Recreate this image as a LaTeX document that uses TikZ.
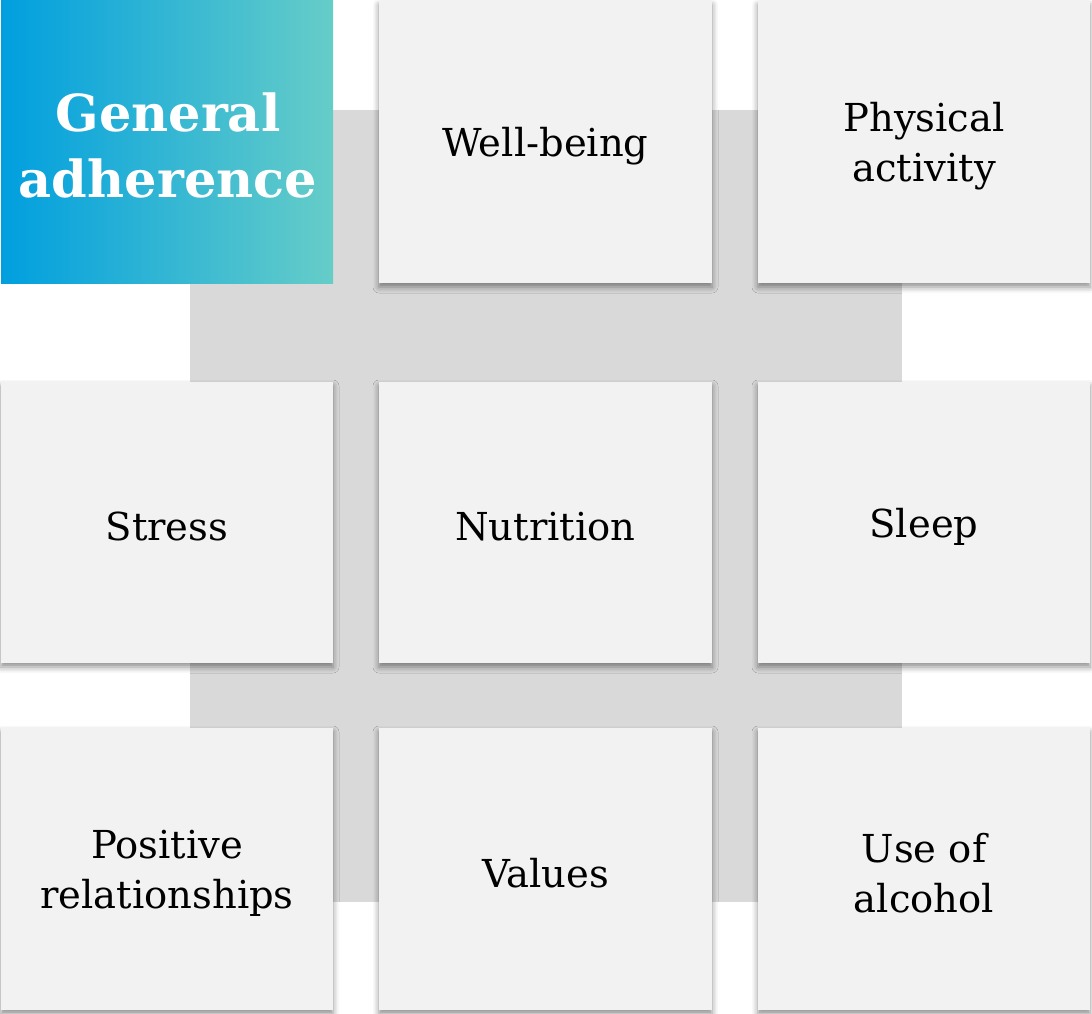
\documentclass[tikz,border=0pt]{standalone}
\usepackage{fontspec}
\setmainfont{DejaVu Serif}
\usetikzlibrary{shadows.blur}
\definecolor{tilefill}{HTML}{F2F2F2}
\definecolor{backfill}{HTML}{D9D9D9}
\definecolor{headleft}{HTML}{009FDF}
\definecolor{headright}{HTML}{66CDC8}
\begin{document}
\begin{tikzpicture}[x=1pt,y=-1pt,
  tile/.style={fill=tilefill, draw=none,
    blur shadow={shadow xshift=0pt, shadow yshift=-4pt, shadow blur radius=6pt, shadow opacity=45}},
  tiletext/.style={align=center, font=\fontsize{38.5}{50}\selectfont, text=black, yshift=-4pt},
  headtext/.style={align=center, font=\fontsize{51}{66}\selectfont\bfseries, text=white}]
  \useasboundingbox (0,0) rectangle (1092,1014);
  % backdrop
  \fill[backfill] (190,110) rectangle (902,902);
  % header tile
  \shade[left color=headleft, right color=headright] (1,1) rectangle (333,283);
  \node[headtext] (head) at (168,145) {General\\adherence};
  % grid tiles
  \foreach \name/\xa/\xb/\ya/\yb in {
      wb/379/712/1/283, pa/758/1090/1/283,
      st/1/333/382/663, nu/379/712/382/663, sl/758/1090/382/663,
      pr/1/333/728/1010, va/379/712/728/1010, al/758/1090/728/1010} {
    \path[tile] (\xa,\ya) rectangle (\xb,\yb);
    \coordinate (\name) at ({(\xa+\xb)/2},{(\ya+\yb)/2});
  }
  \node[tiletext] (twb) at (wb) {Well-being};
  \node[tiletext] (tpa) at (pa) {Physical\\activity};
  \node[tiletext] (tst) at (st) {Stress};
  \node[tiletext] (tnu) at (nu) {Nutrition};
  \node[tiletext] (tsl) at (sl) {Sleep};
  \node[tiletext] (tpr) at (pr) {Positive\\relationships};
  \node[tiletext] (tva) at (va) {Values};
  \node[tiletext] (tal) at (al) {Use of\\alcohol};
\end{tikzpicture}
\end{document}
